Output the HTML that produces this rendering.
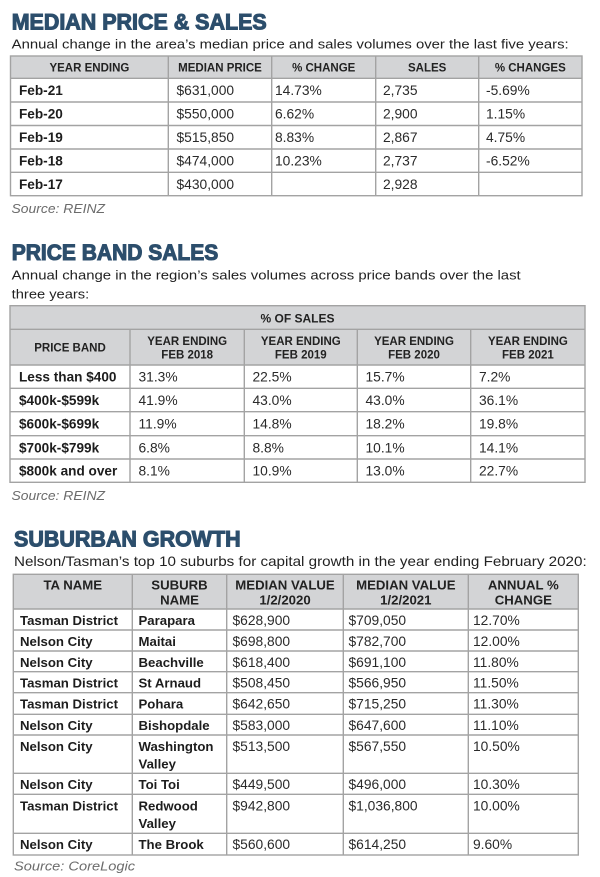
<!DOCTYPE html>
<html><head><meta charset="utf-8"><style>
html,body{margin:0;padding:0;background:#fff;}
svg{display:block;}
text{font-family:"Liberation Sans",Arial,sans-serif;fill:#1d1d1d;}
.t{font-weight:bold;fill:#2c4e6c;stroke:#2c4e6c;stroke-width:1.1px;font-size:22.5px;}
.s{font-size:13.2px;fill:#222;}
.src{font-size:12.5px;font-style:italic;fill:#6b6b6b;}
.h{font-weight:bold;font-size:11.5px;text-anchor:middle;fill:#222;}
.h3{font-weight:bold;font-size:13.2px;text-anchor:middle;fill:#222;}
.b{font-weight:bold;font-size:13.6px;}
.r{font-size:13.8px;fill:#2a2a2a;}
.b3{font-weight:bold;font-size:13.2px;}
.g{fill:#d3d4d6;}
.l{stroke:#a3a3a3;stroke-width:1.4;fill:none;}
</style></head><body>
<svg width="600" height="877" viewBox="0 0 600 877" xmlns="http://www.w3.org/2000/svg">
<!-- ===== SECTION 1 ===== -->
<text class="t" x="11.7" y="29.3" textLength="255" lengthAdjust="spacingAndGlyphs">MEDIAN PRICE &amp; SALES</text>
<text class="s" x="11.7" y="48.5" textLength="557" lengthAdjust="spacingAndGlyphs">Annual change in the area’s median price and sales volumes over the last five years:</text>
<rect class="g" x="10.5" y="56" width="571.5" height="22.3"/>
<g class="l">
<rect x="10.5" y="56" width="571.5" height="139.7"/>
<line x1="10.5" y1="78.3" x2="582" y2="78.3"/>
<line x1="10.5" y1="102" x2="582" y2="102"/>
<line x1="10.5" y1="125.5" x2="582" y2="125.5"/>
<line x1="10.5" y1="149" x2="582" y2="149"/>
<line x1="10.5" y1="172.3" x2="582" y2="172.3"/>
<line x1="168.3" y1="56" x2="168.3" y2="195.7"/>
<line x1="271.7" y1="56" x2="271.7" y2="195.7"/>
<line x1="375.7" y1="56" x2="375.7" y2="195.7"/>
<line x1="478.7" y1="56" x2="478.7" y2="195.7"/>
</g>
<text class="h" x="89.4" y="71.7">YEAR ENDING</text>
<text class="h" x="220" y="71.7">MEDIAN PRICE</text>
<text class="h" x="323.7" y="71.7">% CHANGE</text>
<text class="h" x="427.2" y="71.7">SALES</text>
<text class="h" x="530.3" y="71.7">% CHANGES</text>

<text class="b" x="19" y="95">Feb-21</text><text class="r" x="176.5" y="95">$631,000</text><text class="r" x="275" y="95">14.73%</text><text class="r" x="383" y="95">2,735</text><text class="r" x="486" y="95">-5.69%</text>
<text class="b" x="19" y="118.7">Feb-20</text><text class="r" x="176.5" y="118.7">$550,000</text><text class="r" x="275" y="118.7">6.62%</text><text class="r" x="383" y="118.7">2,900</text><text class="r" x="486" y="118.7">1.15%</text>
<text class="b" x="19" y="142.2">Feb-19</text><text class="r" x="176.5" y="142.2">$515,850</text><text class="r" x="275" y="142.2">8.83%</text><text class="r" x="383" y="142.2">2,867</text><text class="r" x="486" y="142.2">4.75%</text>
<text class="b" x="19" y="165.7">Feb-18</text><text class="r" x="176.5" y="165.7">$474,000</text><text class="r" x="275" y="165.7">10.23%</text><text class="r" x="383" y="165.7">2,737</text><text class="r" x="486" y="165.7">-6.52%</text>
<text class="b" x="19" y="189">Feb-17</text><text class="r" x="176.5" y="189">$430,000</text><text class="r" x="383" y="189">2,928</text>
<text class="src" x="11.5" y="213" textLength="93.5" lengthAdjust="spacingAndGlyphs">Source: REINZ</text>

<!-- ===== SECTION 2 ===== -->
<text class="t" x="11.7" y="260" textLength="206.6" lengthAdjust="spacingAndGlyphs">PRICE BAND SALES</text>
<text class="s" x="11.7" y="279.3" textLength="509" lengthAdjust="spacingAndGlyphs">Annual change in the region’s sales volumes across price bands over the last</text>
<text class="s" x="11.7" y="298.3" textLength="77.5" lengthAdjust="spacingAndGlyphs">three years:</text>
<rect class="g" x="10" y="305.7" width="575" height="59.3"/>
<g class="l">
<rect x="10" y="305.7" width="575" height="176.6"/>
<line x1="10" y1="329.3" x2="585" y2="329.3"/>
<line x1="10" y1="365" x2="585" y2="365"/>
<line x1="10" y1="388.3" x2="585" y2="388.3"/>
<line x1="10" y1="411.7" x2="585" y2="411.7"/>
<line x1="10" y1="435.7" x2="585" y2="435.7"/>
<line x1="10" y1="459" x2="585" y2="459"/>
<line x1="130" y1="329.3" x2="130" y2="482.3"/>
<line x1="244.3" y1="329.3" x2="244.3" y2="482.3"/>
<line x1="357.3" y1="329.3" x2="357.3" y2="482.3"/>
<line x1="470.7" y1="329.3" x2="470.7" y2="482.3"/>
</g>
<text class="h" x="297.5" y="322.3" style="font-size:12px">% OF SALES</text>
<text class="h" x="70" y="351.5">PRICE BAND</text>
<text class="h" x="187.2" y="345">YEAR ENDING</text><text class="h" x="187.2" y="358.5">FEB 2018</text>
<text class="h" x="300.8" y="345">YEAR ENDING</text><text class="h" x="300.8" y="358.5">FEB 2019</text>
<text class="h" x="414" y="345">YEAR ENDING</text><text class="h" x="414" y="358.5">FEB 2020</text>
<text class="h" x="527.9" y="345">YEAR ENDING</text><text class="h" x="527.9" y="358.5">FEB 2021</text>

<text class="b" x="19" y="381.7">Less than $400</text><text class="r" x="138.5" y="381.7">31.3%</text><text class="r" x="252.5" y="381.7">22.5%</text><text class="r" x="365.5" y="381.7">15.7%</text><text class="r" x="479" y="381.7">7.2%</text>
<text class="b" x="19" y="405">$400k-$599k</text><text class="r" x="138.5" y="405">41.9%</text><text class="r" x="252.5" y="405">43.0%</text><text class="r" x="365.5" y="405">43.0%</text><text class="r" x="479" y="405">36.1%</text>
<text class="b" x="19" y="428.4">$600k-$699k</text><text class="r" x="138.5" y="428.4">11.9%</text><text class="r" x="252.5" y="428.4">14.8%</text><text class="r" x="365.5" y="428.4">18.2%</text><text class="r" x="479" y="428.4">19.8%</text>
<text class="b" x="19" y="452.4">$700k-$799k</text><text class="r" x="138.5" y="452.4">6.8%</text><text class="r" x="252.5" y="452.4">8.8%</text><text class="r" x="365.5" y="452.4">10.1%</text><text class="r" x="479" y="452.4">14.1%</text>
<text class="b" x="19" y="475.7">$800k and over</text><text class="r" x="138.5" y="475.7">8.1%</text><text class="r" x="252.5" y="475.7">10.9%</text><text class="r" x="365.5" y="475.7">13.0%</text><text class="r" x="479" y="475.7">22.7%</text>
<text class="src" x="11.5" y="500" textLength="93.5" lengthAdjust="spacingAndGlyphs">Source: REINZ</text>

<!-- ===== SECTION 3 ===== -->
<text class="t" x="14" y="546.7" textLength="226.7" lengthAdjust="spacingAndGlyphs">SUBURBAN GROWTH</text>
<text class="s" x="14" y="566" textLength="572.7" lengthAdjust="spacingAndGlyphs" style="font-size:13.8px">Nelson/Tasman’s top 10 suburbs for capital growth in the year ending February 2020:</text>
<rect class="g" x="13.3" y="574.3" width="565" height="34.7"/>
<g class="l">
<rect x="13.3" y="574.3" width="565" height="280.7"/>
<line x1="13.3" y1="609" x2="578.3" y2="609"/>
<line x1="13.3" y1="630" x2="578.3" y2="630"/>
<line x1="13.3" y1="651" x2="578.3" y2="651"/>
<line x1="13.3" y1="671.7" x2="578.3" y2="671.7"/>
<line x1="13.3" y1="692.7" x2="578.3" y2="692.7"/>
<line x1="13.3" y1="714.3" x2="578.3" y2="714.3"/>
<line x1="13.3" y1="735" x2="578.3" y2="735"/>
<line x1="13.3" y1="773.3" x2="578.3" y2="773.3"/>
<line x1="13.3" y1="794.3" x2="578.3" y2="794.3"/>
<line x1="13.3" y1="833.3" x2="578.3" y2="833.3"/>
<line x1="132.3" y1="574.3" x2="132.3" y2="855"/>
<line x1="226.7" y1="574.3" x2="226.7" y2="855"/>
<line x1="343.3" y1="574.3" x2="343.3" y2="855"/>
<line x1="468.3" y1="574.3" x2="468.3" y2="855"/>
</g>
<text class="h3" x="72.8" y="589.5">TA NAME</text>
<text class="h3" x="179.5" y="589.5">SUBURB</text><text class="h3" x="179.5" y="604.3">NAME</text>
<text class="h3" x="285" y="589.5">MEDIAN VALUE</text><text class="h3" x="285" y="604.3">1/2/2020</text>
<text class="h3" x="405.8" y="589.5">MEDIAN VALUE</text><text class="h3" x="405.8" y="604.3">1/2/2021</text>
<text class="h3" x="523.3" y="589.5">ANNUAL %</text><text class="h3" x="523.3" y="604.3">CHANGE</text>

<text class="b3" x="20" y="624.8">Tasman District</text><text class="b3" x="138.5" y="624.8">Parapara</text><text class="r" x="232.5" y="624.8">$628,900</text><text class="r" x="348.5" y="624.8">$709,050</text><text class="r" x="473" y="624.8">12.70%</text>
<text class="b3" x="20" y="645.8">Nelson City</text><text class="b3" x="138.5" y="645.8">Maitai</text><text class="r" x="232.5" y="645.8">$698,800</text><text class="r" x="348.5" y="645.8">$782,700</text><text class="r" x="473" y="645.8">12.00%</text>
<text class="b3" x="20" y="666.8">Nelson City</text><text class="b3" x="138.5" y="666.8">Beachville</text><text class="r" x="232.5" y="666.8">$618,400</text><text class="r" x="348.5" y="666.8">$691,100</text><text class="r" x="473" y="666.8">11.80%</text>
<text class="b3" x="20" y="687.6">Tasman District</text><text class="b3" x="138.5" y="687.6">St Arnaud</text><text class="r" x="232.5" y="687.6">$508,450</text><text class="r" x="348.5" y="687.6">$566,950</text><text class="r" x="473" y="687.6">11.50%</text>
<text class="b3" x="20" y="708.6">Tasman District</text><text class="b3" x="138.5" y="708.6">Pohara</text><text class="r" x="232.5" y="708.6">$642,650</text><text class="r" x="348.5" y="708.6">$715,250</text><text class="r" x="473" y="708.6">11.30%</text>
<text class="b3" x="20" y="730.1">Nelson City</text><text class="b3" x="138.5" y="730.1">Bishopdale</text><text class="r" x="232.5" y="730.1">$583,000</text><text class="r" x="348.5" y="730.1">$647,600</text><text class="r" x="473" y="730.1">11.10%</text>
<text class="b3" x="20" y="750.8">Nelson City</text><text class="b3" x="138.5" y="750.8">Washington</text><text class="b3" x="138.5" y="768.5">Valley</text><text class="r" x="232.5" y="750.8">$513,500</text><text class="r" x="348.5" y="750.8">$567,550</text><text class="r" x="473" y="750.8">10.50%</text>
<text class="b3" x="20" y="789.2">Nelson City</text><text class="b3" x="138.5" y="789.2">Toi Toi</text><text class="r" x="232.5" y="789.2">$449,500</text><text class="r" x="348.5" y="789.2">$496,000</text><text class="r" x="473" y="789.2">10.30%</text>
<text class="b3" x="20" y="810.4">Tasman District</text><text class="b3" x="138.5" y="810.4">Redwood</text><text class="b3" x="138.5" y="828.1">Valley</text><text class="r" x="232.5" y="810.4">$942,800</text><text class="r" x="348.5" y="810.4">$1,036,800</text><text class="r" x="473" y="810.4">10.00%</text>
<text class="b3" x="20" y="849.2">Nelson City</text><text class="b3" x="138.5" y="849.2">The Brook</text><text class="r" x="232.5" y="849.2">$560,600</text><text class="r" x="348.5" y="849.2">$614,250</text><text class="r" x="473" y="849.2">9.60%</text>
<text class="src" x="14" y="870.5" textLength="121" lengthAdjust="spacingAndGlyphs">Source: CoreLogic</text>
</svg>
</body></html>
